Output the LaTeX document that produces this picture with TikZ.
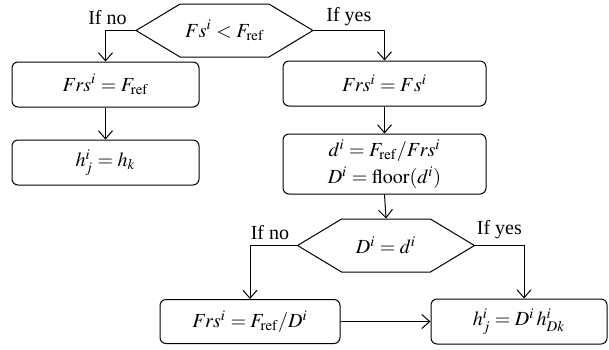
\documentclass[tikz,border=0pt]{standalone}
\usepackage{mathptmx}
\usepackage{fontspec}
\setmainfont{Liberation Serif}
\usepackage{tikz}
\usetikzlibrary{arrows.meta,positioning,calc,shapes.symbols}
\tikzset{
  box/.style   ={draw, line width=0.5pt, rounded corners=3pt, align=center,
                 font=\normalsize, inner sep=2pt, minimum height=22.5pt},
  test/.style  ={draw, line width=0.5pt, signal, signal to=west and east,
                 signal pointer angle=62, font=\normalsize, inner sep=1pt,
                 minimum width=88.5pt, minimum height=26.5pt},
  fl/.style    ={draw, line width=0.5pt, -{Straight Barb[length=4pt,width=7pt]}},
  lbl/.style   ={font=\normalsize, inner sep=0pt},
}

\begin{document}
\begin{tikzpicture}[x=0.5pt,y=-0.5pt]
  \useasboundingbox (0,0) rectangle (609,349);
  % pixel grid of the reference, y downward

  % ---------------- first test -----------------------------------------------
  \node[test] (dec1) at (224.5,30.5) {$Fs^{i} < F_{\mathrm{ref}}$};
  \node[lbl,anchor=base east] (no1)  at ($(dec1.west)+(-8,-6)$) {If no};
  \node[lbl,anchor=base west] (yes1) at ($(dec1.east)+(12,-9)$) {If yes};

  % ---------------- left branch ----------------------------------------------
  \node[box,minimum width=93.5pt] (fref) at (105.5,84.5) {$Frs^{i} = F_{\mathrm{ref}}$};
  \node[box,minimum width=93.5pt] (hk)   at (105.5,162.5) {$h^{i}_{j} = h_{k}$};

  % ---------------- right branch ---------------------------------------------
  \node[box,minimum width=101.5pt] (ffs) at (384.5,83.5) {$Frs^{i} = Fs^{i}$};
  \node[box,minimum width=101.5pt,minimum height=30pt] (div) at (384.5,164)
        {$d^{i} = F_{\mathrm{ref}}/Frs^{i}$\\[1.5pt]$D^{i} = \mathrm{floor}(d^{i})$};

  % ---------------- second test ----------------------------------------------
  \node[test] (dec2) at (386,245.5) {$D^{i} = d^{i}$};
  \node[lbl,anchor=base east] (no2)  at ($(dec2.west)+(-7,-6)$) {If no};
  \node[lbl,anchor=base west] (yes2) at ($(dec2.east)+(1,-11)$) {If yes};

  \node[box,minimum width=90pt,minimum height=22pt] (fdiv) at (250,321.5)
        {$Frs^{i} = F_{\mathrm{ref}}/D^{i}$};
  \node[box,minimum width=88pt] (hd) at (519,321.5) {$h^{i}_{j} = D^{i}\,h^{i}_{Dk}$};

  % ---------------- connectors -----------------------------------------------
  \draw[fl] (dec1.west) -| (fref.north);
  \draw[fl] (dec1.east) -| (ffs.north);
  \draw[fl] (fref.south) -- (hk.north);
  \draw[fl] (ffs.south) -- (div.north);
  \draw[fl] (div.south) -- (dec2.north);
  \draw[fl] (dec2.west) -| (fdiv.north);
  \draw[fl] (dec2.east) -| ([xshift=2.5pt]hd.north);
  \draw[fl] (fdiv.east) -- (hd.west);
\end{tikzpicture}
\end{document}
